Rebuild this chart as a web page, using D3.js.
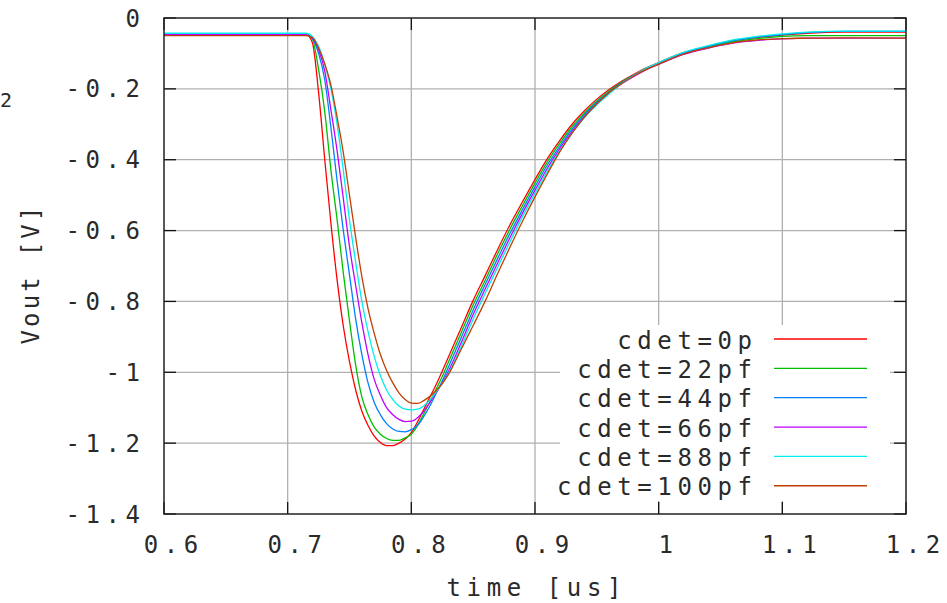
<!DOCTYPE html>
<html>
<head>
<meta charset="utf-8">
<script src="https://cdn.jsdelivr.net/npm/d3@7"></script>
<style>
  html, body { margin: 0; padding: 0; background: #fff; }
  svg { display: block; }
  text { font-family: "DejaVu Sans Mono", monospace; font-size: 24px; fill: #2a2a2a; }
</style>
</head>
<body>
<svg id="chart" width="947" height="603"></svg>
<script>
// ---------- data ----------
const times = [0.6, 0.65, 0.7, 0.71, 0.715,
  0.72, 0.725, 0.73, 0.735, 0.74, 0.745, 0.75, 0.755, 0.76, 0.765, 0.77, 0.775, 0.78, 0.785, 0.79, 0.795, 0.8, 0.805, 0.81, 0.815, 0.82, 0.825, 0.83,
  0.84, 0.85, 0.86, 0.87, 0.88, 0.89, 0.9, 0.91, 0.92, 0.93, 0.94, 0.95, 0.96, 0.97, 0.98, 0.99, 1.0,
  1.02, 1.04, 1.06, 1.08, 1.1, 1.12, 1.15, 1.2];

const cdet0p = [-0.045, -0.045, -0.045, -0.045, -0.046,
  -0.07, -0.21, -0.40, -0.58, -0.74, -0.87, -0.97, -1.05, -1.11, -1.15, -1.18, -1.198, -1.207, -1.207, -1.2, -1.188, -1.17, -1.14, -1.105, -1.07, -1.035, -0.997, -0.957,
  -0.877, -0.797, -0.725, -0.652, -0.582, -0.518, -0.456, -0.397, -0.346, -0.30, -0.262, -0.229, -0.202, -0.179, -0.159, -0.141, -0.126,
  -0.098, -0.08, -0.064, -0.055, -0.048, -0.043, -0.04, -0.04];

const cdet22pf = [-0.046, -0.046, -0.046, -0.046, -0.047,
  -0.06, -0.145, -0.265, -0.43, -0.57, -0.72, -0.855, -0.98, -1.07, -1.12, -1.155, -1.175, -1.187, -1.192, -1.192, -1.185, -1.175, -1.15, -1.117, -1.083, -1.048, -1.012, -0.971,
  -0.891, -0.81, -0.738, -0.664, -0.594, -0.529, -0.466, -0.406, -0.354, -0.307, -0.268, -0.234, -0.206, -0.181, -0.161, -0.143, -0.128,
  -0.1, -0.082, -0.067, -0.058, -0.052, -0.05, -0.05, -0.05];

const cdet44pf = [-0.044, -0.044, -0.044, -0.044, -0.045,
  -0.058, -0.1, -0.175, -0.31, -0.46, -0.6, -0.725, -0.85, -0.95, -1.03, -1.085, -1.12, -1.145, -1.16, -1.167, -1.168, -1.162, -1.15, -1.125, -1.095, -1.06, -1.025, -0.985,
  -0.905, -0.824, -0.75, -0.677, -0.606, -0.54, -0.476, -0.415, -0.362, -0.314, -0.273, -0.238, -0.209, -0.183, -0.162, -0.143, -0.127,
  -0.099, -0.08, -0.064, -0.054, -0.047, -0.041, -0.038, -0.038];

const cdet66pf = [-0.047, -0.047, -0.047, -0.047, -0.047,
  -0.056, -0.09, -0.15, -0.26, -0.375, -0.51, -0.645, -0.755, -0.86, -0.95, -1.02, -1.065, -1.1, -1.12, -1.133, -1.139, -1.138, -1.128, -1.11, -1.085, -1.058, -1.03, -0.997,
  -0.919, -0.837, -0.763, -0.69, -0.618, -0.55, -0.486, -0.424, -0.369, -0.32, -0.278, -0.242, -0.212, -0.186, -0.165, -0.146, -0.131,
  -0.103, -0.085, -0.071, -0.063, -0.059, -0.057, -0.057, -0.057];

const cdet88pf = [-0.043, -0.043, -0.043, -0.043, -0.043,
  -0.052, -0.08, -0.13, -0.2, -0.3, -0.43, -0.57, -0.69, -0.8, -0.885, -0.955, -1.01, -1.05, -1.077, -1.095, -1.104, -1.106, -1.104, -1.095, -1.078, -1.056, -1.032, -1.003,
  -0.93, -0.85, -0.775, -0.702, -0.63, -0.56, -0.495, -0.432, -0.375, -0.325, -0.281, -0.245, -0.214, -0.185, -0.162, -0.142, -0.126,
  -0.097, -0.078, -0.062, -0.052, -0.045, -0.04, -0.037, -0.037];

const cdet100pf = [-0.05, -0.05, -0.05, -0.05, -0.05,
  -0.055, -0.085, -0.13, -0.19, -0.28, -0.38, -0.5, -0.62, -0.73, -0.82, -0.89, -0.95, -0.995, -1.03, -1.058, -1.077, -1.087, -1.088, -1.08, -1.068, -1.052, -1.032, -1.006,
  -0.937, -0.868, -0.797, -0.72, -0.645, -0.573, -0.505, -0.44, -0.378, -0.325, -0.28, -0.242, -0.21, -0.185, -0.163, -0.145, -0.13,
  -0.102, -0.084, -0.07, -0.062, -0.058, -0.057, -0.056, -0.057];

const seriesNames = ["cdet=0p", "cdet=22pf", "cdet=44pf", "cdet=66pf", "cdet=88pf", "cdet=100pf"];
const seriesValues = [cdet0p, cdet22pf, cdet44pf, cdet66pf, cdet88pf, cdet100pf];
const seriesColors = ["#ff0000", "#00c000", "#0080ff", "#c000ff", "#00eeee", "#c04000"];

const xTicks = [0.6, 0.7, 0.8, 0.9, 1.0, 1.1, 1.2];
const xTickLabels = ["0.6", "0.7", "0.8", "0.9", "1", "1.1", "1.2"];
const yTicks = [0, -0.2, -0.4, -0.6, -0.8, -1.0, -1.2, -1.4];
const yTickLabels = ["0", "-0.2", "-0.4", "-0.6", "-0.8", "-1", "-1.2", "-1.4"];

const xLabel = "time [us]";
const yLabel = "Vout [V]";

// ---------- layout ----------
const svg = d3.select("#chart");
const L = 164, R = 906, T = 18, B = 514;
const W = R - L, H = B - T;
const x = d3.scaleLinear().domain([0.6, 1.2]).range([L, R]);
const y = d3.scaleLinear().domain([-1.4, 0]).range([B, T]);
const LS = 5.6; // letter spacing

// grid
const grid = svg.append("g").attr("stroke", "#b0b0b0").attr("stroke-width", 1.3);
grid.selectAll("line.gx").data(xTicks.slice(1, -1)).join("line")
  .attr("x1", d => x(d)).attr("x2", d => x(d)).attr("y1", T).attr("y2", B);
grid.selectAll("line.gy").data(yTicks.slice(1, -1)).join("line")
  .attr("y1", d => y(d)).attr("y2", d => y(d)).attr("x1", L).attr("x2", R);

// legend box (opaque, hides grid)
const legX0 = 560, legX1 = 890, legY0 = 325, legY1 = 501;
svg.append("rect").attr("x", legX0).attr("y", legY0)
  .attr("width", legX1 - legX0).attr("height", legY1 - legY0).attr("fill", "#fff");

// ticks (inward), all four sides
const tk = 12;
const ticks = svg.append("g").attr("stroke", "#111").attr("stroke-width", 1.3);
ticks.selectAll("line.b").data(xTicks).join("line")
  .attr("x1", d => x(d)).attr("x2", d => x(d)).attr("y1", B).attr("y2", B - tk);
ticks.selectAll("line.t").data(xTicks).join("line")
  .attr("x1", d => x(d)).attr("x2", d => x(d)).attr("y1", T).attr("y2", T + tk);
ticks.selectAll("line.l").data(yTicks).join("line")
  .attr("y1", d => y(d)).attr("y2", d => y(d)).attr("x1", L).attr("x2", L + tk);
ticks.selectAll("line.r").data(yTicks).join("line")
  .attr("y1", d => y(d)).attr("y2", d => y(d)).attr("x1", R).attr("x2", R - tk);

// curves
svg.append("clipPath").attr("id", "clip").append("rect")
  .attr("x", L).attr("y", T).attr("width", W).attr("height", H);
const line = d3.line().x(d => x(d[0])).y(d => y(d[1])).curve(d3.curveMonotoneX);
const curves = svg.append("g").attr("clip-path", "url(#clip)");
seriesValues.forEach((vals, i) => {
  curves.append("path")
    .datum(times.map((t, j) => [t, vals[j]]))
    .attr("d", line)
    .attr("fill", "none")
    .attr("stroke", seriesColors[i])
    .attr("stroke-width", 1.3);
});

// border
svg.append("rect").attr("x", L).attr("y", T).attr("width", W).attr("height", H)
  .attr("fill", "none").attr("stroke", "#222").attr("stroke-width", 1.5);

// tick labels
svg.append("g").selectAll("text").data(xTicks).join("text")
  .attr("x", d => x(d) + 7 + LS / 2).attr("y", 553)
  .attr("text-anchor", "middle").style("letter-spacing", LS + "px")
  .text((d, i) => xTickLabels[i]);
svg.append("g").selectAll("text").data(yTicks).join("text")
  .attr("x", 140 + LS).attr("y", d => y(d) + 8.5)
  .attr("text-anchor", "end").style("letter-spacing", LS + "px")
  .text((d, i) => yTickLabels[i]);

// axis titles
svg.append("text").attr("x", 534 + LS / 2).attr("y", 596)
  .attr("text-anchor", "middle").style("letter-spacing", LS + "px").text(xLabel);
svg.append("text")
  .attr("transform", "translate(39," + 274 + ") rotate(-90)")
  .attr("text-anchor", "middle").style("letter-spacing", "3.2px").text(yLabel);

// small fragment at the left edge
svg.append("text").attr("x", 0).attr("y", 107).style("font-size", "20px").text("2");

// legend
const legRow0 = 339, legStep = 29.35;
const leg = svg.append("g");
seriesNames.forEach((name, i) => {
  const yy = legRow0 + i * legStep;
  leg.append("text").attr("x", 752 + LS).attr("y", yy + 9.5)
    .attr("text-anchor", "end").style("letter-spacing", LS + "px").text(name);
  leg.append("line").attr("x1", 774).attr("x2", 867).attr("y1", yy).attr("y2", yy)
    .attr("stroke", seriesColors[i]).attr("stroke-width", 1.3);
});
</script>
</body>
</html>
